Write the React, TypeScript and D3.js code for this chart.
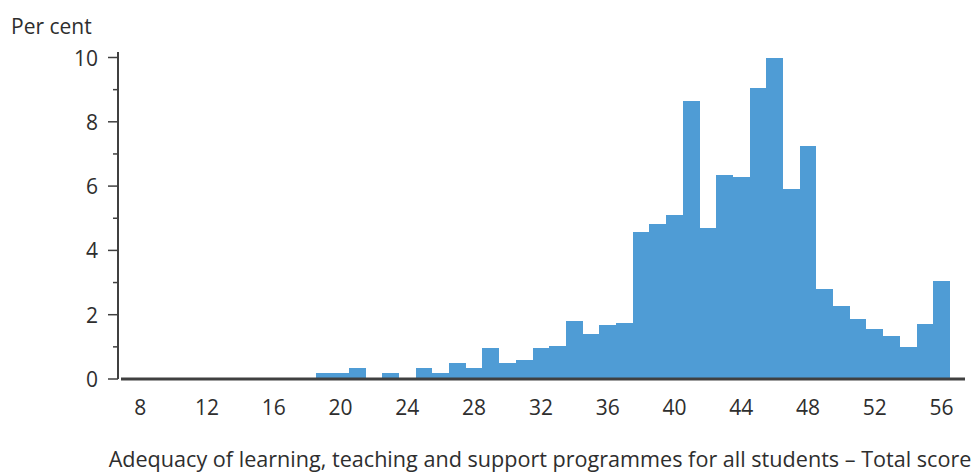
import React from "react";
import * as d3 from "d3";

const scores: number[] = [
  8, 9, 10, 11, 12, 13, 14, 15, 16, 17, 18, 19, 20, 21, 22, 23, 24, 25, 26, 27, 28,
  29, 30, 31, 32, 33, 34, 35, 36, 37, 38, 39, 40, 41, 42, 43, 44, 45, 46, 47, 48,
  49, 50, 51, 52, 53, 54, 55, 56,
];
const percents: number[] = [
  0, 0, 0, 0, 0, 0, 0, 0, 0, 0, 0, 0.19, 0.19, 0.33, 0, 0.19, 0, 0.33, 0.19, 0.5, 0.33,
  0.96, 0.5, 0.59, 0.97, 1.04, 1.81, 1.41, 1.67, 1.74, 4.57, 4.83, 5.1, 8.65, 4.69, 6.33, 6.27, 9.04, 10.0, 5.92, 7.26,
  2.79, 2.26, 1.87, 1.55, 1.34, 1.0, 1.72, 3.06,
];
const xTicks: number[] = [8, 12, 16, 20, 24, 28, 32, 36, 40, 44, 48, 52, 56];
const yTicks: number[] = [0, 2, 4, 6, 8, 10];
const yMinorTicks: number[] = [1, 3, 5, 7, 9];
const yLabel = "Per cent";
const xLabel = "Adequacy of learning, teaching and support programmes for all students – Total score";

const W = 977;
const H = 472;
const FONT = "'Open Sans', sans-serif";
const TEXT = "#2e2e2e";
const AXIS = "#404040";
const BAR = "#4f9cd5";

export default function App() {
  const x = d3.scaleLinear().domain([6.85, 57.4]).range([121, 965]);
  const y = d3.scaleLinear().domain([0, 10]).range([379, 57.5]);
  const bw = x(1) - x(0);
  const data = scores.map((s, i) => ({ s, v: percents[i] }));

  return (
    <svg
      width={W}
      height={H}
      style={{ position: "absolute", left: 0, top: 0, background: "#fff" }}
      fontFamily={FONT}
    >
      <g>
        {data
          .filter((d) => d.v > 0)
          .map((d) => (
            <rect
              key={d.s}
              x={x(d.s) - bw / 2}
              y={y(d.v)}
              width={bw}
              height={y(0) - y(d.v)}
              fill={BAR}
              shapeRendering="crispEdges"
            />
          ))}
      </g>
      {/* y axis */}
      <line x1={118} x2={118} y1={52} y2={y(0)} stroke={AXIS} strokeWidth={2} />
      {yTicks.map((t) => (
        <g key={t}>
          <line x1={108} x2={118} y1={y(t)} y2={y(t)} stroke={AXIS} strokeWidth={1.5} />
          <text
            x={98}
            y={y(t)}
            textAnchor="end"
            dominantBaseline="central"
            fontSize={21}
            fill={TEXT}
          >
            {t}
          </text>
        </g>
      ))}
      {yMinorTicks.map((t) => (
        <line key={t} x1={113} x2={118} y1={y(t)} y2={y(t)} stroke={AXIS} strokeWidth={1.5} />
      ))}
      {/* x axis */}
      <line x1={121} x2={965} y1={y(0)} y2={y(0)} stroke={AXIS} strokeWidth={3} />
      {xTicks.map((t) => (
        <text key={t} x={x(t)} y={415} textAnchor="middle" fontSize={21} fill={TEXT}>
          {t}
        </text>
      ))}
      <text x={11} y={34} fontSize={21} fill={TEXT}>
        {yLabel}
      </text>
      <text x={540} y={467} textAnchor="middle" fontSize={21.6} fill={TEXT}>
        {xLabel}
      </text>
    </svg>
  );
}
